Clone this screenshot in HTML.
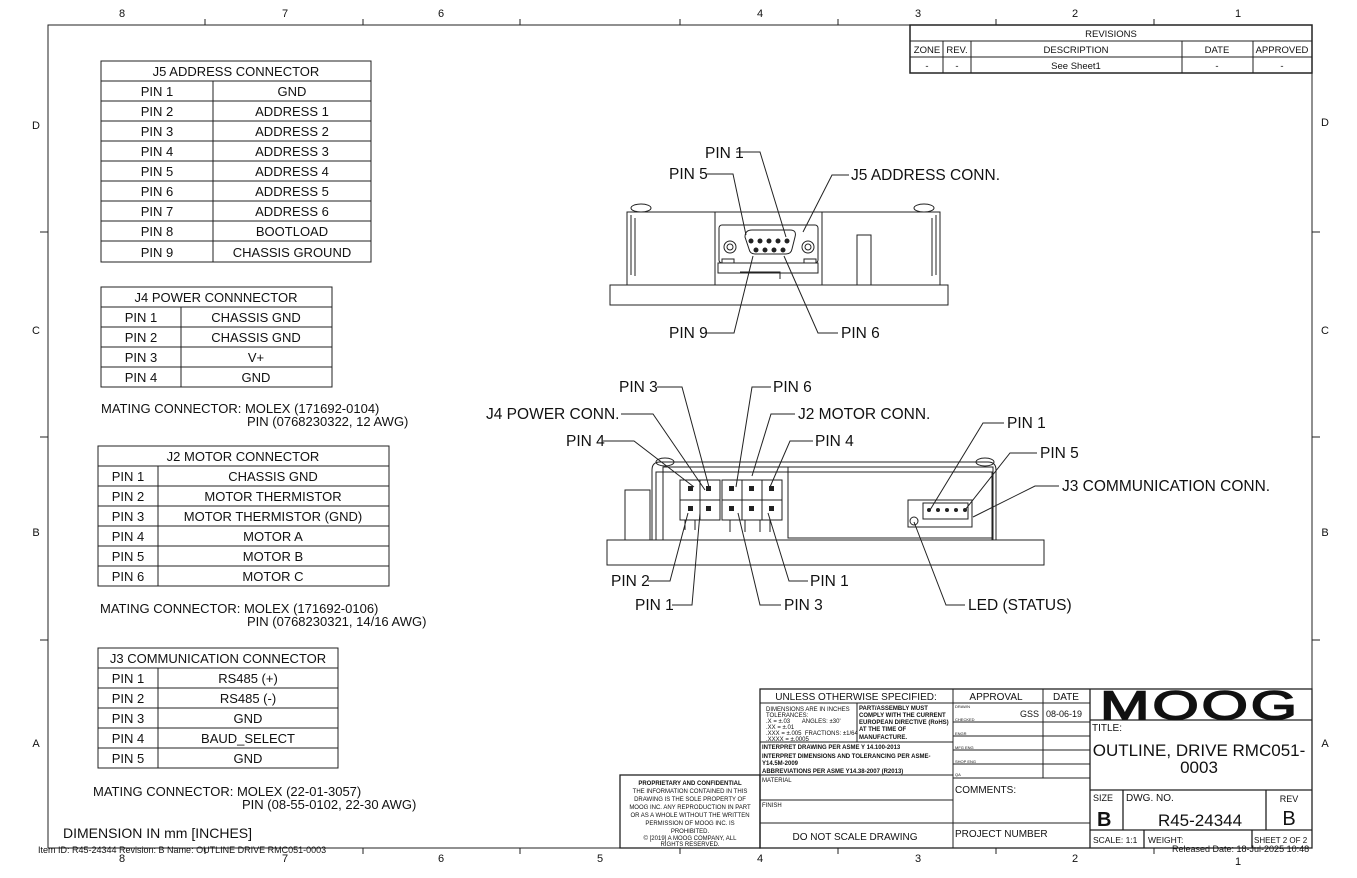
<!DOCTYPE html>
<html><head><meta charset="utf-8"><style>
html,body{margin:0;padding:0;background:#fff}
svg{display:block}
text{font-family:"Liberation Sans",sans-serif;fill:#111}
.t{font-size:13px}
.l{font-size:15.5px}
.s{font-size:6px}
.b{font-weight:bold}
</style></head><body>
<svg width="1357" height="878" viewBox="0 0 1357 878" xmlns="http://www.w3.org/2000/svg">
<g stroke="#222" fill="none" stroke-width="1">
<rect x="48" y="25" width="1264" height="823"/>
<path d="M205 25v-6M363 25v-6M520 25v-6M680 25v-6M838 25v-6M996 25v-6M1154 25v-6 M205 848v6M363 848v6M520 848v6M680 848v6M838 848v6M996 848v6M1154 848v6 M48 232h-8M48 437h-8M48 640h-8M1312 232h8M1312 437h8M1312 640h8"/>
</g>
<g font-size="11" text-anchor="middle">
<text x="122" y="17">8</text><text x="285" y="17">7</text><text x="441" y="17">6</text><text x="760" y="17">4</text><text x="918" y="17">3</text><text x="1075" y="17">2</text><text x="1238" y="17">1</text>
<text x="122" y="862">8</text><text x="285" y="862">7</text><text x="441" y="862">6</text><text x="600" y="862">5</text><text x="760" y="862">4</text><text x="918" y="862">3</text><text x="1075" y="862">2</text><text x="1238" y="865">1</text>
<text x="36" y="129">D</text><text x="1325" y="126">D</text><text x="36" y="334">C</text><text x="1325" y="334">C</text><text x="36" y="536">B</text><text x="1325" y="536">B</text><text x="36" y="747">A</text><text x="1325" y="747">A</text>
</g>
<g stroke="#222" fill="none">
<rect x="910" y="25" width="402" height="48" stroke-width="1.5"/>
<path d="M910 41h402M910 57h402M943 41v32M971 41v32M1182 41v32M1253 41v32"/>
</g>
<g font-size="9.5" text-anchor="middle">
<text x="1111" y="37">REVISIONS</text>
<text x="927" y="53">ZONE</text><text x="957" y="53">REV.</text><text x="1076" y="53">DESCRIPTION</text><text x="1217" y="53">DATE</text><text x="1282" y="53">APPROVED</text>
<text x="927" y="69">-</text><text x="957" y="69">-</text><text x="1076" y="69">See Sheet1</text><text x="1217" y="69">-</text><text x="1282" y="69">-</text>
</g>
<g stroke="#222" fill="none">
<rect x="101" y="61" width="270" height="201"/>
<path d="M101 81h270M101 101h270M101 121h270M101 141h270M101 161h270M101 181h270M101 201h270M101 221h270M101 241h270M213 81v181"/>
<rect x="101" y="287" width="231" height="100"/>
<path d="M101 307h231M101 327h231M101 347h231M101 367h231M181 307v80"/>
<rect x="98" y="446" width="291" height="140"/>
<path d="M98 466h291M98 486h291M98 506h291M98 526h291M98 546h291M98 566h291M158 466v120"/>
<rect x="98" y="648" width="240" height="120"/>
<path d="M98 668h240M98 688h240M98 708h240M98 728h240M98 748h240M158 668v100"/>
</g>
<g class="t" text-anchor="middle">
<text x="236" y="76">J5 ADDRESS CONNECTOR</text>
<text x="157" y="96">PIN 1</text><text x="292" y="96">GND</text>
<text x="157" y="116">PIN 2</text><text x="292" y="116">ADDRESS 1</text>
<text x="157" y="136">PIN 3</text><text x="292" y="136">ADDRESS 2</text>
<text x="157" y="156">PIN 4</text><text x="292" y="156">ADDRESS 3</text>
<text x="157" y="176">PIN 5</text><text x="292" y="176">ADDRESS 4</text>
<text x="157" y="196">PIN 6</text><text x="292" y="196">ADDRESS 5</text>
<text x="157" y="216">PIN 7</text><text x="292" y="216">ADDRESS 6</text>
<text x="157" y="236">PIN 8</text><text x="292" y="236">BOOTLOAD</text>
<text x="157" y="257">PIN 9</text><text x="292" y="257">CHASSIS GROUND</text>
<text x="216" y="302">J4 POWER CONNNECTOR</text>
<text x="141" y="322">PIN 1</text><text x="256" y="322">CHASSIS GND</text>
<text x="141" y="342">PIN 2</text><text x="256" y="342">CHASSIS GND</text>
<text x="141" y="362">PIN 3</text><text x="256" y="362">V+</text>
<text x="141" y="382">PIN 4</text><text x="256" y="382">GND</text>
<text x="243" y="461">J2 MOTOR CONNECTOR</text>
<text x="128" y="481">PIN 1</text><text x="273" y="481">CHASSIS GND</text>
<text x="128" y="501">PIN 2</text><text x="273" y="501">MOTOR THERMISTOR</text>
<text x="128" y="521">PIN 3</text><text x="273" y="521">MOTOR THERMISTOR (GND)</text>
<text x="128" y="541">PIN 4</text><text x="273" y="541">MOTOR A</text>
<text x="128" y="561">PIN 5</text><text x="273" y="561">MOTOR B</text>
<text x="128" y="581">PIN 6</text><text x="273" y="581">MOTOR C</text>
<text x="218" y="663">J3 COMMUNICATION CONNECTOR</text>
<text x="128" y="683">PIN 1</text><text x="248" y="683">RS485 (+)</text>
<text x="128" y="703">PIN 2</text><text x="248" y="703">RS485 (-)</text>
<text x="128" y="723">PIN 3</text><text x="248" y="723">GND</text>
<text x="128" y="743">PIN 4</text><text x="248" y="743">BAUD_SELECT</text>
<text x="128" y="763">PIN 5</text><text x="248" y="763">GND</text>
</g>
<g class="t">
<text x="101" y="413">MATING CONNECTOR: MOLEX (171692-0104)</text>
<text x="247" y="426">PIN (0768230322, 12 AWG)</text>
<text x="100" y="613">MATING CONNECTOR: MOLEX (171692-0106)</text>
<text x="247" y="626">PIN (0768230321, 14/16 AWG)</text>
<text x="93" y="796">MATING CONNECTOR: MOLEX (22-01-3057)</text>
<text x="242" y="809">PIN (08-55-0102, 22-30 AWG)</text>
<text x="63" y="838" font-size="14">DIMENSION IN mm [INCHES]</text>
<text x="38" y="853" font-size="9" font-family="Liberation Serif">Item ID: R45-24344 Revision: B Name: OUTLINE DRIVE RMC051-0003</text>
</g>
<g stroke="#222" fill="none" stroke-width="1">
<rect x="610" y="285" width="338" height="20"/>
<rect x="627" y="212" width="313" height="73"/>
<path d="M631 215v60M936 215v60M635 218v58M932 218v58"/>
<rect x="715" y="212" width="107" height="73"/>
<rect x="719" y="225" width="99" height="38" rx="3"/>
<path d="M745 237q0-7 7-7h38q7 0 5 7l-3 12q-1 5-6 5h-31q-5 0-6-5z"/>
<circle cx="730" cy="247" r="6"/><circle cx="730" cy="247" r="3"/>
<circle cx="808" cy="247" r="6"/><circle cx="808" cy="247" r="3"/>
<rect x="857" y="235" width="14" height="50"/>
<path d="M718 263h100v10h-100z M740 272h40v7 M722 263v-4h12v4 M804 263v-4h12v4"/>
<ellipse cx="641" cy="208" rx="10" ry="4"/><ellipse cx="924" cy="208" rx="10" ry="4"/>
</g>
<g fill="#222">
<circle cx="751" cy="241" r="2.5"/><circle cx="760" cy="241" r="2.5"/><circle cx="769" cy="241" r="2.5"/><circle cx="778" cy="241" r="2.5"/><circle cx="787" cy="241" r="2.5"/>
<circle cx="756" cy="250" r="2.5"/><circle cx="765" cy="250" r="2.5"/><circle cx="774" cy="250" r="2.5"/><circle cx="783" cy="250" r="2.5"/>
</g>
<g stroke="#222" fill="none" stroke-width="1">
<rect x="607" y="540" width="437" height="25"/>
<rect x="625" y="490" width="25" height="50"/>
<path d="M652 540v-70q0-8 8-8h328q8 0 8 8v70 M656 540v-68h336v68"/>
<rect x="663" y="467" width="330" height="73"/>
<rect x="788" y="467" width="205" height="71"/>
<rect x="680" y="480" width="40" height="40"/>
<rect x="722" y="480" width="60" height="40"/>
<path d="M680 500h40M722 500h60M700 480v40M742 480v40M762 480v40"/>
<rect x="908" y="500" width="64" height="27"/>
<rect x="923" y="503" width="45" height="16"/>
<circle cx="914" cy="521" r="4"/>
<ellipse cx="665" cy="462" rx="9" ry="4"/><ellipse cx="985" cy="462" rx="9" ry="4"/>
<path d="M685 520v10M695 520v10M730 520v12M745 520v12M760 520v12M770 520v12"/>
</g>
<g fill="#222">
<rect x="688" y="486" width="5" height="5"/><rect x="706" y="486" width="5" height="5"/><rect x="729" y="486" width="5" height="5"/><rect x="749" y="486" width="5" height="5"/><rect x="769" y="486" width="5" height="5"/>
<rect x="688" y="506" width="5" height="5"/><rect x="706" y="506" width="5" height="5"/><rect x="729" y="506" width="5" height="5"/><rect x="749" y="506" width="5" height="5"/><rect x="769" y="506" width="5" height="5"/>
<circle cx="929" cy="510" r="2"/><circle cx="938" cy="510" r="2"/><circle cx="947" cy="510" r="2"/><circle cx="956" cy="510" r="2"/><circle cx="965" cy="510" r="2"/>
</g>
<g stroke="#222" fill="none" stroke-width="1">
<path d="M736 152h24l26 85 M707 174h26l13 61 M849 175h-17l-29 57 M706 333h28l19-77 M838 333h-20l-34-77"/>
<path d="M657 387h25l27 100 M621 414h32l52 76 M603 441h31l60 46 M771 387h-19l-16 100 M795 414h-24l-19 62 M813 441h-23l-20 46"/>
<path d="M1004 423h-21l-53 87 M1037 453h-27l-45 57 M1059 486h-24l-62 31"/>
<path d="M648 581h22l18-68 M672 605h20l8-92 M808 581h-19l-21-68 M781 605h-21l-22-92 M965 605h-19l-32-83"/>
</g>
<g class="l">
<text x="705" y="158">PIN 1</text>
<text x="669" y="179">PIN 5</text>
<text x="851" y="180">J5 ADDRESS CONN.</text>
<text x="669" y="338">PIN 9</text>
<text x="841" y="338">PIN 6</text>
<text x="619" y="392">PIN 3</text>
<text x="486" y="419">J4 POWER CONN.</text>
<text x="566" y="446">PIN 4</text>
<text x="773" y="392">PIN 6</text>
<text x="798" y="419">J2 MOTOR CONN.</text>
<text x="815" y="446">PIN 4</text>
<text x="1007" y="428">PIN 1</text>
<text x="1040" y="458">PIN 5</text>
<text x="1062" y="491">J3 COMMUNICATION CONN.</text>
<text x="611" y="586">PIN 2</text>
<text x="635" y="610">PIN 1</text>
<text x="810" y="586">PIN 1</text>
<text x="784" y="610">PIN 3</text>
<text x="968" y="610">LED (STATUS)</text>
</g>
<g stroke="#222" fill="none" stroke-width="1">
<rect x="620" y="775" width="140" height="73" stroke-width="1.3"/>
<rect x="760" y="689" width="552" height="159" stroke-width="1.3"/>
<path d="M760 703h330M760 742h193M760 775h193M760 800h193M760 823h193M953 689v159M1043 689v89M953 722h137M953 736h137M953 750h137M953 764h137M953 778h137M953 823h137M857 703v39"/>
<path d="M1090 689v159M1090 720h222M1090 790h222M1090 830h222M1123 790v40M1266 790v40M1144 830v18M1252 830v18" stroke-width="1.3"/>
</g>
<g text-anchor="middle">
<text x="856" y="700" font-size="10">UNLESS OTHERWISE SPECIFIED:</text>
<text x="996" y="700" font-size="10">APPROVAL</text>
<text x="1066" y="700" font-size="10">DATE</text>
<text x="690" y="785" class="s b">PROPRIETARY AND CONFIDENTIAL</text>
<text x="690" y="793" class="s">THE INFORMATION CONTAINED IN THIS</text>
<text x="690" y="801" class="s">DRAWING IS THE SOLE PROPERTY OF</text>
<text x="690" y="809" class="s">MOOG INC. ANY REPRODUCTION IN PART</text>
<text x="690" y="817" class="s">OR AS A WHOLE WITHOUT THE WRITTEN</text>
<text x="690" y="825" class="s">PERMISSION OF MOOG INC. IS</text>
<text x="690" y="833" class="s">PROHIBITED.</text>
<text x="690" y="840" class="s">© [2019] A MOOG COMPANY, ALL</text>
<text x="690" y="846" class="s">RIGHTS RESERVED.</text>
<text x="855" y="840" font-size="10">DO NOT SCALE DRAWING</text>
<text x="1199" y="756" font-size="17">OUTLINE, DRIVE RMC051-</text>
<text x="1199" y="773" font-size="17">0003</text>
<text x="1200" y="826" font-size="17">R45-24344</text>
<text x="1289" y="825" font-size="20">B</text>
<text x="1289" y="802" font-size="9">REV</text>
<text x="1200" y="719" font-size="40" stroke="#111" stroke-width="1.5" letter-spacing="2" textLength="200" lengthAdjust="spacingAndGlyphs">MOOG</text>
</g>
<g class="s">
<text x="766" y="711">DIMENSIONS ARE IN INCHES</text>
<text x="766" y="717">TOLERANCES:</text>
<text x="766" y="723">.X = ±.03 &#160;&#160;&#160;&#160;&#160;&#160;ANGLES: ±30'</text>
<text x="766" y="729">.XX = ±.01</text>
<text x="766" y="735">.XXX = ±.005 &#160;FRACTIONS: ±1/64</text>
<text x="766" y="741">.XXXX = ±.0005</text>
<g class="b"><text x="859" y="710">PART/ASSEMBLY MUST</text><text x="859" y="717">COMPLY WITH THE CURRENT</text><text x="859" y="724">EUROPEAN DIRECTIVE (RoHS)</text><text x="859" y="731">AT THE TIME OF</text><text x="859" y="739">MANUFACTURE.</text>
<text x="762" y="749">INTERPRET DRAWING PER ASME Y 14.100-2013</text>
<text x="762" y="758">INTERPRET DIMENSIONS AND TOLERANCING PER ASME-</text>
<text x="762" y="765">Y14.5M-2009</text>
<text x="762" y="773">ABBREVIATIONS PER ASME Y14.38-2007 (R2013)</text></g>
<text x="762" y="782">MATERIAL</text>
<text x="762" y="807">FINISH</text>
<text x="955" y="708" font-size="4">DRAWN</text><text x="955" y="721" font-size="4">CHECKED</text><text x="955" y="735" font-size="4">ENGR</text><text x="955" y="749" font-size="4">MFG ENG</text><text x="955" y="763" font-size="4">SHOP ENG</text><text x="955" y="776" font-size="4">QA</text>
</g>
<g font-size="9">
<text x="1020" y="717">GSS</text><text x="1046" y="717">08-06-19</text>
<text x="955" y="793" font-size="10">COMMENTS:</text>
<text x="955" y="837" font-size="10">PROJECT NUMBER</text>
<text x="1092" y="731" font-size="10">TITLE:</text>
<text x="1093" y="801">SIZE</text>
<text x="1097" y="826" font-size="20" font-weight="bold">B</text>
<text x="1126" y="801" font-size="10">DWG. NO.</text>
<text x="1093" y="843" font-size="8.5">SCALE: 1:1</text>
<text x="1148" y="843" font-size="8.5">WEIGHT:</text>
<text x="1254" y="843" font-size="8">SHEET 2 OF 2</text>
<text x="1172" y="852" font-family="Liberation Serif" font-size="9">Released Date: 18-Jul-2025 10:48</text>
</g>
</svg>
</body></html>
